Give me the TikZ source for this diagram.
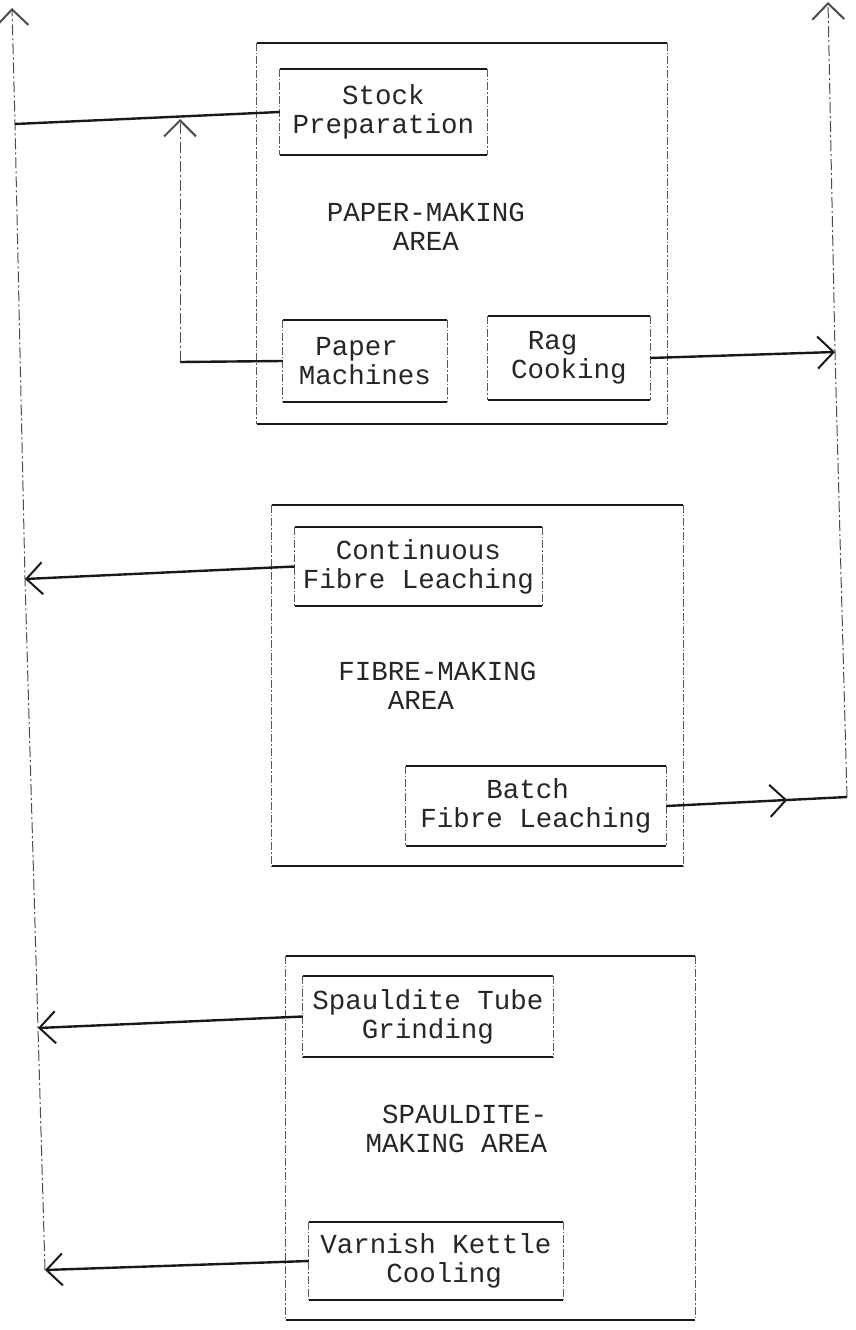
\documentclass[tikz,border=0pt]{standalone}
\usepackage{fontspec}
\setmainfont{Liberation Mono}
\usetikzlibrary{arrows.meta,decorations.markings}
\tikzset{
  vtip/.tip={Straight Barb[length=16pt,width=32pt,line width=2pt]},
  txt/.style={font=\fontsize{27.5}{29}\selectfont, text=black!85, align=left, inner sep=0pt},
  proc/.style={txt},
  area/.style={inner sep=0pt},
  hedge/.style={line width=2.4pt, black!90},
  vedge/.style={line width=0.9pt, black!65, dash pattern=on 8pt off 2pt on 1.5pt off 2pt},
  flow/.style={line width=2.4pt, black!90},
  ret/.style={line width=1pt, black!70, dash pattern=on 11pt off 3pt on 2pt off 3pt},
  midtip/.style={postaction={decorate}, decoration={markings, mark=at position 0.67 with {\arrow{vtip}}}}
}
\newcommand\procframe[1]{%
  \draw[hedge] (#1.north west) -- (#1.north east);
  \draw[hedge] (#1.south west) -- (#1.south east);
  \draw[vedge] (#1.north west) -- (#1.south west);
  \draw[vedge] (#1.north east) -- (#1.south east);}
\begin{document}
\begin{tikzpicture}[x=1pt,y=-1pt]
\useasboundingbox (0,0) rectangle (855,1330);
% areas
\node[area, minimum width=410pt, minimum height=381pt] (pa) at (462,233.5) {};
\node[area, minimum width=411pt, minimum height=361pt] (fa) at (477.5,685.5) {};
\node[area, minimum width=409pt, minimum height=364pt] (sa) at (490.5,1138) {};
\procframe{pa}\procframe{fa}\procframe{sa}
\node[txt] (patxt) at (426,227) {PAPER-MAKING\\\hphantom{PAPE}AREA};
\node[txt] (fatxt) at (437.5,686) {FIBRE-MAKING\\\hphantom{FIB}AREA};
\node[txt] (satxt) at (456.5,1128.5) {\hphantom{M}SPAULDITE-\\MAKING AREA};
% process boxes
\node[proc, minimum width=207pt, minimum height=86pt] (sp) at (383.5,112) {\hphantom{Pre}Stock\\Preparation};
\node[proc, minimum width=164pt, minimum height=82pt] (pm) at (365,361) {\hphantom{M}Paper\\Machines};
\node[proc, minimum width=162pt, minimum height=84pt] (rc) at (569,358) {\hphantom{C}Rag\\Cooking};
\node[proc, minimum width=247pt, minimum height=79pt] (cf) at (418.5,566.5) {\hphantom{Fi}Continuous\\Fibre Leaching};
\node[proc, minimum width=260pt, minimum height=80pt] (bf) at (536,806) {\hphantom{Fibr}Batch\\Fibre Leaching};
\node[proc, minimum width=250pt, minimum height=81pt] (sg) at (428,1016.5) {Spauldite Tube\\\hphantom{Spa}Grinding};
\node[proc, minimum width=254pt, minimum height=78pt] (vk) at (436,1261) {Varnish Kettle\\\hphantom{Varn}Cooling};
\procframe{sp}\procframe{pm}\procframe{rc}\procframe{cf}\procframe{bf}\procframe{sg}\procframe{vk}
% connector points
\coordinate (Ltop) at (12,8);
\coordinate (Lsp) at (15,124);
\coordinate (Lcf) at (25,579);
\coordinate (Lsg) at (38,1028);
\coordinate (Lvk) at (45,1270);
\coordinate (PMc) at (180,362);
\coordinate (PMtip) at (180,119);
\coordinate (Rtop) at (828,2);
\coordinate (Rrc) at (835,352);
\coordinate (Rbf) at (847,797);
% connectors
\draw[ret,-vtip] (Lvk) -- (Lsg) -- (Lcf) -- (Lsp) -- (Ltop);
\draw[flow] (sp.west) -- (Lsp);
\draw[flow] (pm.west) -- (PMc);
\draw[ret,-vtip] (PMc) -- (PMtip);
\draw[flow,-vtip] (rc.east) -- (Rrc);
\draw[ret,-vtip] (Rbf) -- (Rrc) -- (Rtop);
\draw[flow,midtip] (bf.east) -- (Rbf);
\draw[flow,-vtip] (cf.west) -- (Lcf);
\draw[flow,-vtip] (sg.west) -- (Lsg);
\draw[flow,-vtip] (vk.west) -- (Lvk);
\end{tikzpicture}
\end{document}
